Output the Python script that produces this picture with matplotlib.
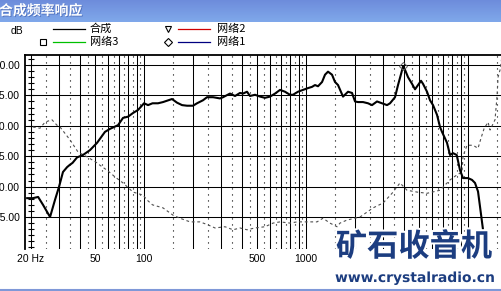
import matplotlib
matplotlib.use('Agg')
import numpy as np
import matplotlib.pyplot as plt
from matplotlib.lines import Line2D
import matplotlib.patheffects as pe

# ---------------- data ----------------
title_text = '合成频率响应'
legend_labels = ['合成', '网络3', '网络2', '网络1']

freq_combined = [19.0, 20.6, 22.2, 23.8, 26.3, 28.2, 29.9, 31.6, 33.5, 34.9, 36.2, 38.6,
                 42.0, 46.4, 51.3, 57.4, 61.7, 69.1, 74.2, 79.7, 85.5, 91.8, 100, 105.9,
                 112.8, 122, 131, 148.9, 159.9, 171.7, 184.3, 200.6, 212.4, 231.3, 244.8,
                 266.7, 294.5, 307.4, 339.5, 364.5, 391.4, 408.4, 432.3, 451.1, 484.5, 520,
                 558, 600, 644, 691, 742, 796, 831, 892, 958, 1029, 1089, 1136, 1186, 1256,
                 1310, 1367, 1447, 1510, 1576, 1692, 1817, 1923, 2007, 2094, 2249, 2414,
                 2555, 2743, 2946, 3162, 3301, 3543, 3698, 3859, 3973, 4084, 4262, 4512,
                 4708, 4914, 5128, 5275, 5584, 5828, 6081, 6436, 6718, 6910, 7419, 7743,
                 8080, 8517, 8925, 9315, 10000, 10585, 11046, 11527, 11860, 12379, 13100]
db_combined = [78.1, 78.1, 78.3, 77.0, 75.0, 77.8, 80.0, 82.4, 83.2, 83.6, 83.9, 84.8,
               85.2, 86.0, 87.2, 89.0, 89.5, 90.1, 91.3, 91.5, 92.1, 92.6, 93.7, 93.4,
               93.7, 93.7, 93.9, 94.4, 93.8, 93.4, 93.3, 93.3, 93.7, 94.2, 94.7,
               94.7, 94.5, 94.7, 95.3, 94.9, 95.4, 95.3, 95.6, 94.9, 95.1, 94.8,
               94.6, 94.8, 95.3, 95.9, 95.6, 95.1, 95.1, 95.6, 95.9, 96.2, 96.4, 96.7, 96.5, 97.2,
               98.4, 98.9, 98.4, 97.2, 96.7, 94.8, 95.6, 95.4, 94.0, 93.9, 93.9, 93.7,
               93.4, 94.0, 93.7, 93.4, 93.7, 94.7, 96.7, 98.5, 99.8, 99.2, 98.0, 96.9,
               96.0, 96.7, 97.4, 96.9, 95.6, 94.2, 93.4, 91.8, 89.8, 89.0, 87.2, 85.2,
               85.5, 85.2, 82.7, 81.4, 81.4, 81.1, 80.6, 79.2, 76.7, 72.9, 68.0]

freq_dashed = [20.6, 22.8, 24.5, 27.0, 29.0, 30.3, 34.9, 39.1, 44.5, 51.3, 53.5, 59.1,
               66.2, 74.2, 85.5, 98.6, 104.4, 112.8, 131, 151, 166.8, 192.3, 221.7, 248.5,
               274.2, 316.2, 354.3, 391.4, 432.3, 484.5, 558, 625.5, 691, 796, 880, 1014,
               1169, 1273, 1405, 1555, 1621, 1791, 2154, 2592, 2988, 3396, 3803, 4203,
               4844, 5584, 6718, 7743, 8517, 9183, 9315, 9860, 10740, 11527, 12040, 12550,
               13290, 13680, 14680, 15100, 15330, 15770, 16220]
db_dashed = [89.8, 89.6, 90.6, 91.0, 90.1, 89.8, 87.7, 85.7, 84.9, 83.9, 83.5, 82.7,
             81.6, 80.6, 79.1, 78.6, 77.8, 77.0, 76.5, 75.3, 74.8, 74.2, 74.2, 73.7,
             73.2, 73.4, 72.9, 73.2, 72.9, 73.2, 73.4, 74.0, 74.2, 74.0, 74.2, 74.2,
             74.2, 74.8, 74.0, 73.4, 74.0, 74.5, 75.0, 76.5, 77.3, 78.9, 80.6, 79.4,
             79.1, 78.9, 79.4, 81.1, 81.9, 82.4, 85.0, 86.8, 86.8, 86.3, 88.0, 89.5,
             90.6, 89.3, 91.0, 94.8, 98.0, 99.2, 101.5]

y_ticks = [75, 80, 85, 90, 95, 100]
y_tick_labels = ['75.00', '80.00', '85.00', '90.00', '95.00', '100.00']
x_ticks = [20, 50, 100, 500, 1000]
x_tick_labels = ['20 Hz', '50', '100', '500', '1000']

# ---------------- figure ----------------
W, H = 502, 291
fig = plt.figure(figsize=(W / 100, H / 100), dpi=100)
fig.patch.set_facecolor('white')

def fx(px):
    return px / W

def fy(py):
    return 1 - py / H

# title bar
tax = fig.add_axes([0, fy(22), 1, 22 / H])
grad = np.linspace(0, 1, 50)[:, None, None]
top = np.array([0.43, 0.55, 0.86])
bot = np.array([0.50, 0.66, 0.92])
img = top + (bot - top) * grad
img = np.repeat(img, 10, axis=1)
tax.imshow(img, aspect='auto', extent=[0, 1, 0, 1])
tax.set_axis_off()
fig.text(fx(-1), fy(11), title_text, color='white', fontsize=10, fontweight='bold',
         family=['Noto Sans CJK SC', 'DejaVu Sans'], ha='left', va='center',
         path_effects=[pe.withSimplePatchShadow(offset=(0.6, -0.6), shadow_rgbFace='#3050a0', alpha=0.6)])

# main axes
ax = fig.add_axes([fx(25), fy(249), fx(502 - 25), (249 - 55) / H])
ax.set_xscale('log')
ax.set_xlim(18.42, 16210)
ax.set_ylim(69.74, 101.64)

# grid lines
for dec in [10, 100, 1000, 10000]:
    for m in range(1, 10):
        f = m * dec
        if 20 <= f <= 10000:
            ax.axvline(f, color='black', lw=0.75, zorder=1)
        fd = (m + 0.5) * dec
        if 18.42 < fd < 16210:
            ax.axvline(fd, color='black', lw=0.8, ls=(0, (1, 4.4)), zorder=1)
for v in y_ticks:
    ax.axhline(v, color='black', lw=0.75, zorder=1)
# small 1 dB marks on the 20 Hz line
ax.plot([20] * 32, list(range(70, 102)), ls='none', marker='_', ms=5, mew=0.8,
        color='black', zorder=2)

# curves
ax.plot(freq_dashed, db_dashed, color='#505050', lw=0.8, ls=(0, (2.5, 2.5)), zorder=3)
ax.plot(freq_combined, db_combined, color='black', lw=1.5, zorder=4, solid_joinstyle='round')
ipk = int(np.argmax(db_combined))
ax.plot([freq_combined[ipk]], [db_combined[ipk]], marker='D', ms=4, mfc='none', mec='#606060',
        mew=0.7, zorder=5)

for s in ['bottom', 'right']:
    ax.spines[s].set_visible(False)
for s in ['top', 'left']:
    ax.spines[s].set_linewidth(1.3)

ax.set_yticks(y_ticks)
ax.set_yticklabels(y_tick_labels)
ax.set_xticks(x_ticks)
ax.set_xticklabels(x_tick_labels)
ax.xaxis.set_minor_locator(matplotlib.ticker.NullLocator())
ax.tick_params(axis='both', length=0, labelsize=7.5)
ax.tick_params(axis='y', pad=3.6)
ax.tick_params(axis='x', pad=3.6)
for lab in ax.get_xticklabels() + ax.get_yticklabels():
    lab.set_family('Liberation Sans')

# legend (drawn by hand in figure coords)
lfam = ['Noto Sans CJK SC', 'DejaVu Sans']
fig.text(fx(17), fy(31), 'dB', fontsize=7.5, family='Liberation Sans', ha='center', va='center')
rows = [(29, 53, 85, 90, 'black', None, legend_labels[0]),
        (42, 53, 85, 90, '#00c000', 's', legend_labels[1]),
        (29, 178, 210, 217, '#d00000', 'v', legend_labels[2]),
        (42, 178, 210, 217, '#000080', 'D', legend_labels[3])]
for yy, x0, x1, xt, col, mk, lab in rows:
    fig.add_artist(Line2D([fx(x0), fx(x1)], [fy(yy), fy(yy)], color=col, lw=0.9))
    if mk is not None:
        mx = 43 if x0 == 53 else 168
        fig.add_artist(Line2D([fx(mx)], [fy(yy)], marker=mk, ms=4.5 if mk != 'D' else 3.8,
                              mfc='none', mec='black', mew=0.8, ls='none'))
    fig.text(fx(xt), fy(yy), lab, fontsize=8, family=lfam, ha='left', va='center')

# watermark
fig.text(fx(414), fy(247), '矿石收音机', fontsize=22.5, fontweight='bold', color='#1c3d80',
         family=lfam, ha='center', va='center',
         path_effects=[pe.withStroke(linewidth=3, foreground='white')])
fig.text(fx(415), fy(278), 'www.crystalradio.cn', fontsize=10, fontweight='bold', color='#1c3d80',
         family='DejaVu Sans', ha='center', va='center',
         path_effects=[pe.withStroke(linewidth=2, foreground='white')])

# bottom border line
fig.add_artist(Line2D([0, 1], [fy(289.5), fy(289.5)], color='#7f98d8', lw=1.5))

fig.savefig('out.png', dpi=100, facecolor='white')
